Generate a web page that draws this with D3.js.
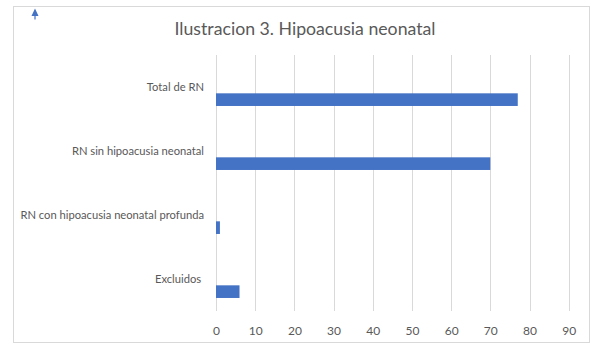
<!DOCTYPE html>
<html>
<head>
<meta charset="utf-8">
<title>Ilustracion 3. Hipoacusia neonatal</title>
<script src="https://cdn.jsdelivr.net/npm/d3@7"></script>
<style>
  body { margin: 0; background: #fff; }
  text { font-family: Lato, "Open Sans", sans-serif; fill: #595959; white-space: pre; }
</style>
</head>
<body>
<div id="chart"></div>
<script>
// data
var categories = ["Total de RN", "RN sin hipoacusia neonatal", "RN con hipoacusia neonatal profunda", "Excluidos "];
var values = [77, 70, 1, 6];
// the original chart is clustered with three series, only the last one filled
var series = ["Serie 1", "Serie 2", "Serie 3"];
var shownSeries = "Serie 3";
var xTicks = [0, 10, 20, 30, 40, 50, 60, 70, 80, 90];
var title = "Ilustracion 3. Hipoacusia neonatal";

var W = 602, H = 355;
var margin = {top: 55, right: 33, bottom: 44, left: 216};

var svg = d3.select("#chart").append("svg")
    .attr("width", W)
    .attr("height", H);

// chart frame
svg.append("rect")
    .attr("x", 13.5).attr("y", 6.5)
    .attr("width", 576).attr("height", 336)
    .attr("fill", "#fff")
    .attr("stroke", "#d9d9d9");

// small arrow in the top left corner
svg.append("path")
    .attr("d", "M35,8.5 L38.5,16 L31.5,16 Z M34.4,16 L35.6,16 L35.6,19.5 L34.4,19.5 Z")
    .attr("fill", "#4472c4");

svg.append("text")
    .attr("x", 305).attr("y", 35)
    .attr("text-anchor", "middle")
    .style("font-size", "17.7px")
    .text(title);

var x = d3.scaleLinear()
    .domain([0, 90])
    .range([margin.left, W - margin.right - 0.3]);

var y0 = d3.scaleBand()
    .domain(categories)
    .range([margin.top, H - margin.bottom]);

var y1 = d3.scaleBand()
    .domain(series)
    .range([0, y0.bandwidth()])
    .paddingOuter(1.03);

// gridlines
svg.append("g")
  .selectAll("line")
  .data(xTicks)
  .enter().append("line")
    .attr("x1", function(d) { return Math.round(x(d)) + 0.5; })
    .attr("x2", function(d) { return Math.round(x(d)) + 0.5; })
    .attr("y1", margin.top)
    .attr("y2", H - margin.bottom)
    .attr("stroke", "#d9d9d9")
    .attr("stroke-width", 1);

// bars
svg.append("g")
  .selectAll("rect")
  .data(categories)
  .enter().append("rect")
    .attr("x", x(0))
    .attr("y", function(d) { return y0(d) + y1(shownSeries); })
    .attr("width", function(d, i) { return x(values[i]) - x(0); })
    .attr("height", y1.bandwidth())
    .attr("fill", "#4472c4");

// x axis labels
var xAxis = svg.append("g")
    .attr("transform", "translate(0," + (H - margin.bottom) + ")")
    .call(d3.axisBottom(x).tickValues(xTicks).tickSize(0).tickPadding(15));
xAxis.select(".domain").remove();
xAxis.selectAll("text")
    .style("font-size", "12px")
    .style("font-family", "Lato, 'Open Sans', sans-serif")
    .attr("fill", "#595959");

// category labels, above each bar
svg.append("g")
  .selectAll("text")
  .data(categories)
  .enter().append("text")
    .attr("x", margin.left - 12)
    .attr("y", function(d) { return y0(d) + y0.bandwidth() / 2 + 4; })
    .attr("text-anchor", "end")
    .style("font-size", "11.2px")
    .text(function(d) { return d; });
</script>
</body>
</html>
